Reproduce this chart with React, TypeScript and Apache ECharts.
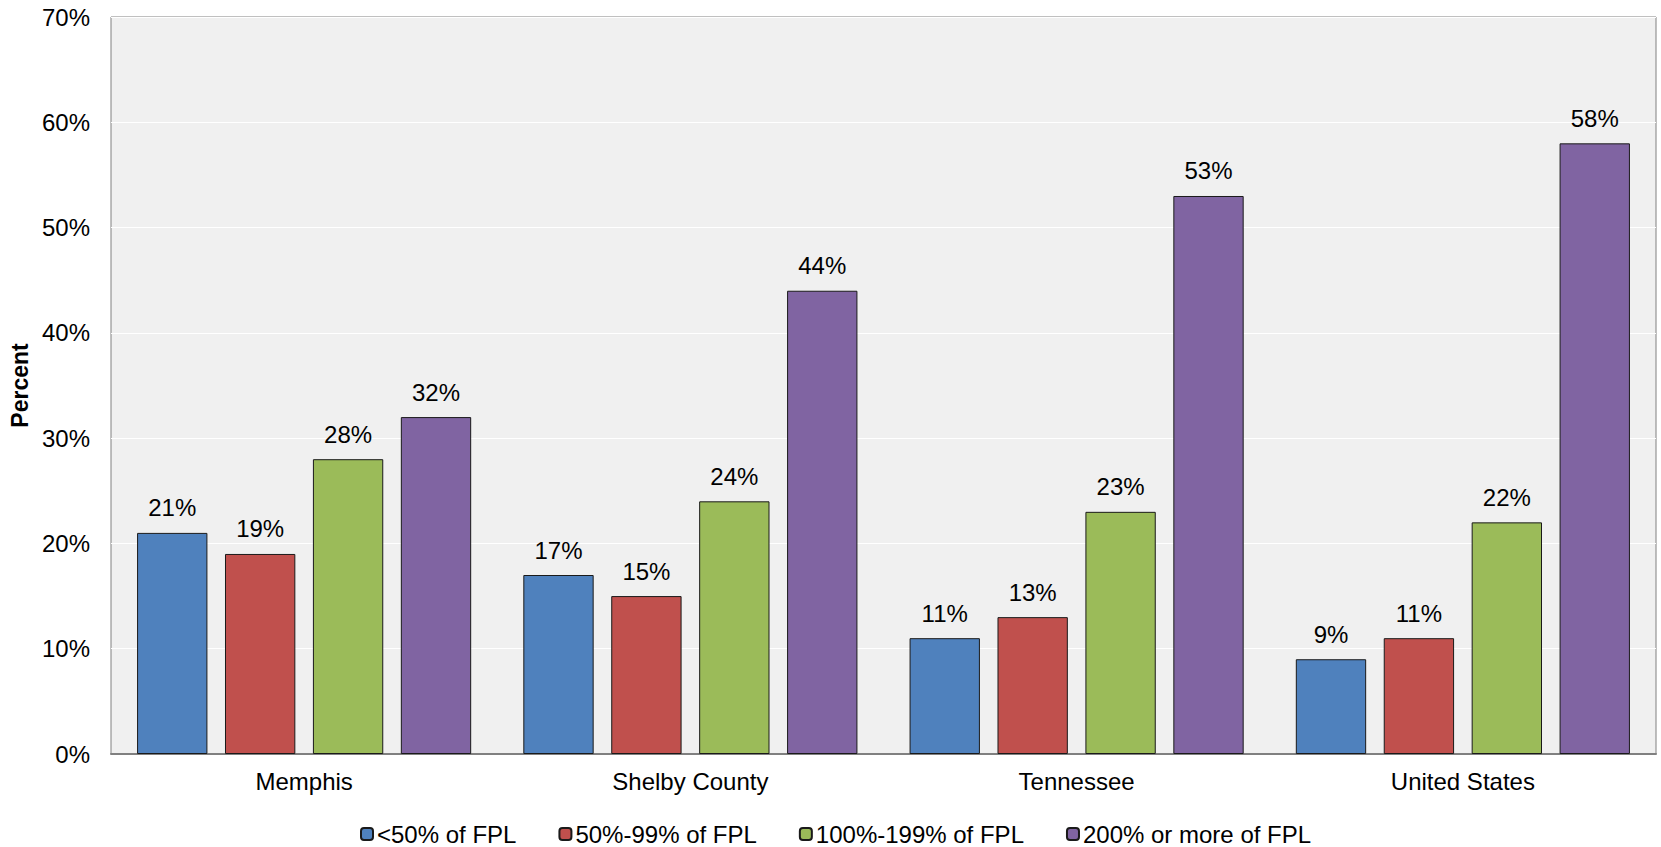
import React, { useEffect, useRef } from "react";
import * as echarts from "echarts";

// Share of population by income relative to the federal poverty level
const categories = ["Memphis", "Shelby County", "Tennessee", "United States"];
const seriesNames = ["<50% of FPL", "50%-99% of FPL", "100%-199% of FPL", "200% or more of FPL"];
const below50 = [21, 17, 11, 9];
const from50to99 = [19, 15, 13, 11];
const from100to199 = [28, 24, 23, 22];
const over200 = [32, 44, 53, 58];
const seriesColors = ["#4F81BD", "#C0504D", "#9BBB59", "#8064A2"];
const yTicks = [0, 10, 20, 30, 40, 50, 60, 70];

const FONT = "'Liberation Sans', Arial, sans-serif";

export default function App() {
  const ref = useRef<HTMLDivElement>(null);

  useEffect(() => {
    document.body.style.margin = "0";
    const chart = echarts.init(ref.current!, null, { renderer: "svg" });
    const values = [below50, from50to99, from100to199, over200];

    chart.setOption({
      animation: false,
      textStyle: { fontFamily: FONT },
      grid: {
        left: 111,
        right: 5,
        top: 17,
        bottom: 93,
        outerBoundsMode: "none",
        containLabel: false,
        show: true,
        backgroundColor: "#F0F0F0",
        borderColor: "#808080",
        borderWidth: 1,
      },
      legend: {
        top: 817,
        left: 355,
        itemWidth: 12,
        itemHeight: 12,
        itemGap: 42,
        textStyle: { fontSize: 24, color: "#000", fontFamily: FONT, padding: [0, 0, 0, -1] },
        data: seriesNames,
      },
      xAxis: {
        type: "category",
        data: categories,
        axisLine: { lineStyle: { color: "#808080", width: 2 } },
        axisTick: { show: false },
        axisLabel: { fontSize: 24, color: "#000", margin: 15, fontFamily: FONT },
      },
      yAxis: {
        type: "value",
        min: yTicks[0],
        max: yTicks[yTicks.length - 1],
        interval: 10,
        name: "Percent",
        nameLocation: "middle",
        nameGap: 80,
        nameTextStyle: { fontSize: 23, fontWeight: "bold", color: "#000", fontFamily: FONT },
        axisLine: { show: false },
        axisTick: { show: false },
        splitLine: { lineStyle: { color: "#FFFFFF", width: 1 } },
        axisLabel: {
          fontSize: 24,
          color: "#000",
          margin: 21,
          fontFamily: FONT,
          formatter: (v: number) => `${v}%`,
        },
      },
      series: seriesNames.map((name, i) => ({
        name,
        type: "bar",
        data: values[i],
        barGap: "25%",
        barCategoryGap: "13.5%",
        itemStyle: { color: seriesColors[i], borderColor: "#1A1A1A", borderWidth: 1 },
        label: {
          show: true,
          position: "top",
          distance: 13,
          fontSize: 24,
          color: "#000",
          fontFamily: FONT,
          formatter: (p: any) => `${p.value}%`,
        },
      })),
    });

    return () => chart.dispose();
  }, []);

  return <div ref={ref} style={{ width: 1661, height: 847 }} />;
}
